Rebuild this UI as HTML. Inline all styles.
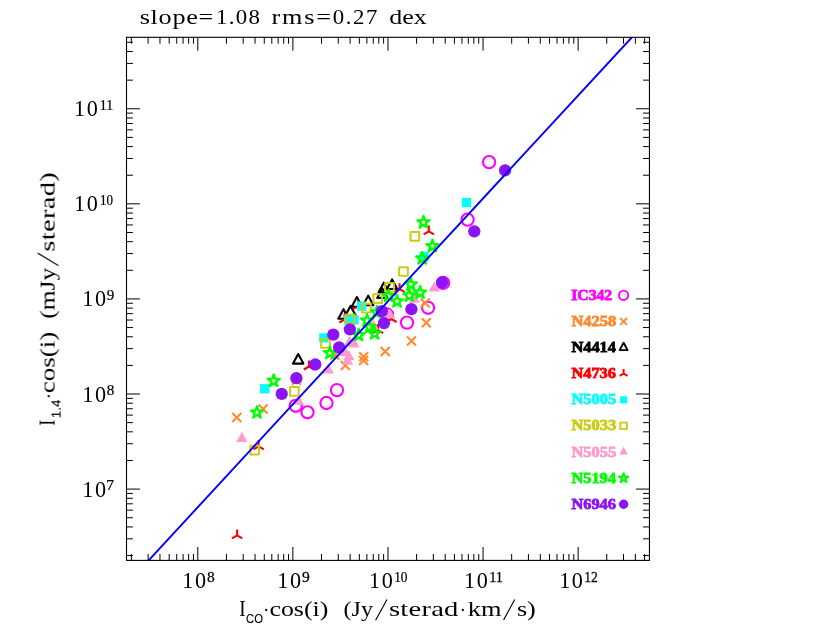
<!DOCTYPE html><html><head><meta charset="utf-8"><title>plot</title>
<style>html,body{margin:0;padding:0;background:#fff;}svg{display:block;}text{font-family:"Liberation Serif",serif;fill:#000;}</style></head><body>
<svg width="817" height="627" viewBox="0 0 817 627">
<rect width="817" height="627" fill="#fff"/>
<defs><filter id="noLCD" x="0" y="0" width="817" height="627" filterUnits="userSpaceOnUse"><feOffset dx="0" dy="0"/></filter></defs>
<g id="ic">
<circle cx="489.1" cy="162.1" r="6.10" fill="none" stroke="#ff00ff" stroke-width="2.10"/>
<circle cx="467.6" cy="219.6" r="6.10" fill="none" stroke="#ff00ff" stroke-width="2.10"/>
<circle cx="443.1" cy="282.9" r="6.10" fill="none" stroke="#ff00ff" stroke-width="2.10"/>
<circle cx="428.1" cy="307.8" r="6.10" fill="none" stroke="#ff00ff" stroke-width="2.10"/>
<circle cx="407" cy="322.6" r="6.10" fill="none" stroke="#ff00ff" stroke-width="2.10"/>
<circle cx="387" cy="314.5" r="6.10" fill="none" stroke="#ff00ff" stroke-width="2.10"/>
<circle cx="337" cy="390.1" r="6.10" fill="none" stroke="#ff00ff" stroke-width="2.10"/>
<circle cx="326.5" cy="403" r="6.10" fill="none" stroke="#ff00ff" stroke-width="2.10"/>
<circle cx="295.7" cy="405.8" r="6.10" fill="none" stroke="#ff00ff" stroke-width="2.10"/>
<circle cx="307.5" cy="412.3" r="6.10" fill="none" stroke="#ff00ff" stroke-width="2.10"/>
</g>
<g id="n42">
<path d="M420.70 298.40L429.70 307.40M420.70 307.40L429.70 298.40" stroke="#ff8a30" stroke-width="2.10" fill="none"/>
<path d="M421.80 318.30L430.80 327.30M421.80 327.30L430.80 318.30" stroke="#ff8a30" stroke-width="2.10" fill="none"/>
<path d="M407.00 336.60L416.00 345.60M407.00 345.60L416.00 336.60" stroke="#ff8a30" stroke-width="2.10" fill="none"/>
<path d="M380.70 347.10L389.70 356.10M380.70 356.10L389.70 347.10" stroke="#ff8a30" stroke-width="2.10" fill="none"/>
<path d="M359.20 352.30L368.20 361.30M359.20 361.30L368.20 352.30" stroke="#ff8a30" stroke-width="2.10" fill="none"/>
<path d="M359.10 356.10L368.10 365.10M359.10 365.10L368.10 356.10" stroke="#ff8a30" stroke-width="2.10" fill="none"/>
<path d="M340.80 361.10L349.80 370.10M340.80 370.10L349.80 361.10" stroke="#ff8a30" stroke-width="2.10" fill="none"/>
<path d="M330.40 350.40L339.40 359.40M330.40 359.40L339.40 350.40" stroke="#ff8a30" stroke-width="2.10" fill="none"/>
<path d="M291.90 375.80L300.90 384.80M291.90 384.80L300.90 375.80" stroke="#ff8a30" stroke-width="2.10" fill="none"/>
<path d="M258.60 404.50L267.60 413.50M258.60 413.50L267.60 404.50" stroke="#ff8a30" stroke-width="2.10" fill="none"/>
<path d="M232.30 412.90L241.30 421.90M232.30 421.90L241.30 412.90" stroke="#ff8a30" stroke-width="2.10" fill="none"/>
</g>
<g id="n44">
<path d="M298.20 354.00L303.40 363.60L293.00 363.60Z" stroke="#000" stroke-width="2.10" fill="none" stroke-linejoin="round"/>
<path d="M343.50 309.20L348.70 318.80L338.30 318.80Z" stroke="#000" stroke-width="2.10" fill="none" stroke-linejoin="round"/>
<path d="M350.50 305.90L355.70 315.50L345.30 315.50Z" stroke="#000" stroke-width="2.10" fill="none" stroke-linejoin="round"/>
<path d="M356.90 297.10L362.10 306.70L351.70 306.70Z" stroke="#000" stroke-width="2.10" fill="none" stroke-linejoin="round"/>
<path d="M368.20 295.70L373.40 305.30L363.00 305.30Z" stroke="#000" stroke-width="2.10" fill="none" stroke-linejoin="round"/>
<path d="M382.40 288.30L387.60 297.90L377.20 297.90Z" stroke="#000" stroke-width="2.10" fill="none" stroke-linejoin="round"/>
<path d="M383.80 282.70L389.00 292.30L378.60 292.30Z" stroke="#000" stroke-width="2.10" fill="none" stroke-linejoin="round"/>
<path d="M392.10 279.45L397.30 289.05L386.90 289.05Z" stroke="#000" stroke-width="2.10" fill="none" stroke-linejoin="round"/>
</g>
<g id="n47">
<path d="M237.10 535.40V529.40M237.10 535.40L231.90 538.40M237.10 535.40L242.30 538.40" stroke="#ff0000" stroke-width="2.10" fill="none"/>
<path d="M258.60 446.30V440.30M258.60 446.30L253.40 449.30M258.60 446.30L263.80 449.30" stroke="#ff0000" stroke-width="2.10" fill="none"/>
<path d="M309.00 366.50V360.50M309.00 366.50L303.80 369.50M309.00 366.50L314.20 369.50" stroke="#ff0000" stroke-width="2.10" fill="none"/>
<path d="M344.60 319.50V313.50M344.60 319.50L339.40 322.50M344.60 319.50L349.80 322.50" stroke="#ff0000" stroke-width="2.10" fill="none"/>
<path d="M358.30 306.20V300.20M358.30 306.20L353.10 309.20M358.30 306.20L363.50 309.20" stroke="#ff0000" stroke-width="2.10" fill="none"/>
<path d="M378.00 330.10V324.10M378.00 330.10L372.80 333.10M378.00 330.10L383.20 333.10" stroke="#ff0000" stroke-width="2.10" fill="none"/>
<path d="M391.40 319.00V313.00M391.40 319.00L386.20 322.00M391.40 319.00L396.60 322.00" stroke="#ff0000" stroke-width="2.10" fill="none"/>
<path d="M399.60 289.20V283.20M399.60 289.20L394.40 292.20M399.60 289.20L404.80 292.20" stroke="#ff0000" stroke-width="2.10" fill="none"/>
<path d="M428.80 231.40V225.40M428.80 231.40L423.60 234.40M428.80 231.40L434.00 234.40" stroke="#ff0000" stroke-width="2.10" fill="none"/>
</g>
<g id="n50">
<rect x="461.85" y="197.85" width="9.30" height="9.30" fill="#00ffff"/>
<rect x="419.40" y="251.85" width="9.30" height="9.30" fill="#00ffff"/>
<rect x="357.05" y="301.45" width="9.30" height="9.30" fill="#00ffff"/>
<rect x="343.85" y="315.25" width="9.30" height="9.30" fill="#00ffff"/>
<rect x="349.45" y="315.25" width="9.30" height="9.30" fill="#00ffff"/>
<rect x="319.15" y="333.25" width="9.30" height="9.30" fill="#00ffff"/>
<rect x="260.05" y="384.15" width="9.30" height="9.30" fill="#00ffff"/>
</g>
<g id="n503">
<rect x="410.55" y="232.05" width="8.70" height="8.70" fill="none" stroke="#cccc12" stroke-width="1.99" stroke-linejoin="round"/>
<rect x="399.15" y="267.15" width="8.70" height="8.70" fill="none" stroke="#cccc12" stroke-width="1.99" stroke-linejoin="round"/>
<rect x="385.15" y="283.05" width="8.70" height="8.70" fill="none" stroke="#cccc12" stroke-width="1.99" stroke-linejoin="round"/>
<rect x="373.35" y="294.25" width="8.70" height="8.70" fill="none" stroke="#cccc12" stroke-width="1.99" stroke-linejoin="round"/>
<rect x="362.05" y="303.75" width="8.70" height="8.70" fill="none" stroke="#cccc12" stroke-width="1.99" stroke-linejoin="round"/>
<rect x="345.85" y="314.65" width="8.70" height="8.70" fill="none" stroke="#cccc12" stroke-width="1.99" stroke-linejoin="round"/>
<rect x="321.15" y="339.15" width="8.70" height="8.70" fill="none" stroke="#cccc12" stroke-width="1.99" stroke-linejoin="round"/>
<rect x="290.05" y="386.95" width="8.70" height="8.70" fill="none" stroke="#cccc12" stroke-width="1.99" stroke-linejoin="round"/>
<rect x="250.35" y="445.75" width="8.70" height="8.70" fill="none" stroke="#cccc12" stroke-width="1.99" stroke-linejoin="round"/>
</g>
<g id="n505">
<path d="M434.30 281.40L439.90 291.50L428.70 291.50Z" fill="#ff9bcd"/>
<path d="M414.40 292.60L420.00 302.70L408.80 302.70Z" fill="#ff9bcd"/>
<path d="M354.00 337.30L359.60 347.40L348.40 347.40Z" fill="#ff9bcd"/>
<path d="M349.50 335.80L355.10 345.90L343.90 345.90Z" fill="#ff9bcd"/>
<path d="M348.90 350.10L354.50 360.20L343.30 360.20Z" fill="#ff9bcd"/>
<path d="M347.50 354.60L353.10 364.70L341.90 364.70Z" fill="#ff9bcd"/>
<path d="M344.80 345.90L350.40 356.00L339.20 356.00Z" fill="#ff9bcd"/>
<path d="M373.40 319.70L379.00 329.80L367.80 329.80Z" fill="#ff9bcd"/>
<path d="M328.30 363.40L333.90 373.50L322.70 373.50Z" fill="#ff9bcd"/>
<path d="M298.50 394.60L304.10 404.70L292.90 404.70Z" fill="#ff9bcd"/>
<path d="M241.90 431.80L247.50 441.90L236.30 441.90Z" fill="#ff9bcd"/>
<path d="M389.90 308.50L395.50 318.60L384.30 318.60Z" fill="#ff9bcd"/>
</g>
<g id="n51">
<path d="M423.50 215.90L424.94 220.32L429.59 220.32L425.83 223.06L427.26 227.48L423.50 224.74L419.74 227.48L421.17 223.06L417.41 220.32L422.06 220.32Z" fill="none" stroke="#00ff00" stroke-width="2.27" stroke-linejoin="round"/>
<path d="M432.40 239.70L433.84 244.12L438.49 244.12L434.73 246.86L436.16 251.28L432.40 248.54L428.64 251.28L430.07 246.86L426.31 244.12L430.96 244.12Z" fill="none" stroke="#00ff00" stroke-width="2.27" stroke-linejoin="round"/>
<path d="M422.20 252.00L423.64 256.42L428.29 256.42L424.53 259.16L425.96 263.58L422.20 260.84L418.44 263.58L419.87 259.16L416.11 256.42L420.76 256.42Z" fill="none" stroke="#00ff00" stroke-width="2.27" stroke-linejoin="round"/>
<path d="M410.80 277.90L412.24 282.32L416.89 282.32L413.13 285.06L414.56 289.48L410.80 286.74L407.04 289.48L408.47 285.06L404.71 282.32L409.36 282.32Z" fill="none" stroke="#00ff00" stroke-width="2.27" stroke-linejoin="round"/>
<path d="M420.10 286.20L421.54 290.62L426.19 290.62L422.43 293.36L423.86 297.78L420.10 295.04L416.34 297.78L417.77 293.36L414.01 290.62L418.66 290.62Z" fill="none" stroke="#00ff00" stroke-width="2.27" stroke-linejoin="round"/>
<path d="M409.40 289.20L410.84 293.62L415.49 293.62L411.73 296.36L413.16 300.78L409.40 298.04L405.64 300.78L407.07 296.36L403.31 293.62L407.96 293.62Z" fill="none" stroke="#00ff00" stroke-width="2.27" stroke-linejoin="round"/>
<path d="M397.00 295.00L398.44 299.42L403.09 299.42L399.33 302.16L400.76 306.58L397.00 303.84L393.24 306.58L394.67 302.16L390.91 299.42L395.56 299.42Z" fill="none" stroke="#00ff00" stroke-width="2.27" stroke-linejoin="round"/>
<path d="M388.60 289.60L390.04 294.02L394.69 294.02L390.93 296.76L392.36 301.18L388.60 298.44L384.84 301.18L386.27 296.76L382.51 294.02L387.16 294.02Z" fill="none" stroke="#00ff00" stroke-width="2.27" stroke-linejoin="round"/>
<path d="M377.00 305.90L378.44 310.32L383.09 310.32L379.33 313.06L380.76 317.48L377.00 314.74L373.24 317.48L374.67 313.06L370.91 310.32L375.56 310.32Z" fill="none" stroke="#00ff00" stroke-width="2.27" stroke-linejoin="round"/>
<path d="M367.10 314.10L368.54 318.52L373.19 318.52L369.43 321.26L370.86 325.68L367.10 322.94L363.34 325.68L364.77 321.26L361.01 318.52L365.66 318.52Z" fill="none" stroke="#00ff00" stroke-width="2.27" stroke-linejoin="round"/>
<path d="M369.60 320.50L371.04 324.92L375.69 324.92L371.93 327.66L373.36 332.08L369.60 329.34L365.84 332.08L367.27 327.66L363.51 324.92L368.16 324.92Z" fill="none" stroke="#00ff00" stroke-width="2.27" stroke-linejoin="round"/>
<path d="M374.60 327.10L376.04 331.52L380.69 331.52L376.93 334.26L378.36 338.68L374.60 335.94L370.84 338.68L372.27 334.26L368.51 331.52L373.16 331.52Z" fill="none" stroke="#00ff00" stroke-width="2.27" stroke-linejoin="round"/>
<path d="M358.60 328.70L360.04 333.12L364.69 333.12L360.93 335.86L362.36 340.28L358.60 337.54L354.84 340.28L356.27 335.86L352.51 333.12L357.16 333.12Z" fill="none" stroke="#00ff00" stroke-width="2.27" stroke-linejoin="round"/>
<path d="M329.90 346.60L331.34 351.02L335.99 351.02L332.23 353.76L333.66 358.18L329.90 355.44L326.14 358.18L327.57 353.76L323.81 351.02L328.46 351.02Z" fill="none" stroke="#00ff00" stroke-width="2.27" stroke-linejoin="round"/>
<path d="M273.70 374.40L275.14 378.82L279.79 378.82L276.03 381.56L277.46 385.98L273.70 383.24L269.94 385.98L271.37 381.56L267.61 378.82L272.26 378.82Z" fill="none" stroke="#00ff00" stroke-width="2.27" stroke-linejoin="round"/>
<path d="M257.00 406.10L258.44 410.52L263.09 410.52L259.33 413.26L260.76 417.68L257.00 414.94L253.24 417.68L254.67 413.26L250.91 410.52L255.56 410.52Z" fill="none" stroke="#00ff00" stroke-width="2.27" stroke-linejoin="round"/>
</g>
<g id="n69">
<circle cx="505.1" cy="170.3" r="6.15" fill="#8a14f5"/>
<circle cx="474.3" cy="231.3" r="6.15" fill="#8a14f5"/>
<circle cx="442.1" cy="282.5" r="6.15" fill="#8a14f5"/>
<circle cx="411.4" cy="309.2" r="6.15" fill="#8a14f5"/>
<circle cx="381.9" cy="311.2" r="6.15" fill="#8a14f5"/>
<circle cx="384.0" cy="323.1" r="6.15" fill="#8a14f5"/>
<circle cx="349.9" cy="329.3" r="6.15" fill="#8a14f5"/>
<circle cx="333.3" cy="334.7" r="6.15" fill="#8a14f5"/>
<circle cx="339.1" cy="347.3" r="6.15" fill="#8a14f5"/>
<circle cx="315.3" cy="364.5" r="6.15" fill="#8a14f5"/>
<circle cx="296.4" cy="378.2" r="6.15" fill="#8a14f5"/>
<circle cx="281.7" cy="393.9" r="6.15" fill="#8a14f5"/>
</g>
<clipPath id="cp"><rect x="126.5" y="37.3" width="522.95" height="523.1"/></clipPath>
<path d="M148.65 560.4 L632.15 37.0" stroke="#0000ff" stroke-width="1.9" fill="none" clip-path="url(#cp)"/>
<path d="M131.35 560.4 v-6.4 M131.35 37.3 v6.4 M148.10 560.4 v-6.4 M148.10 37.3 v6.4 M159.97 560.4 v-6.4 M159.97 37.3 v6.4 M169.19 560.4 v-6.4 M169.19 37.3 v6.4 M176.72 560.4 v-6.4 M176.72 37.3 v6.4 M183.08 560.4 v-6.4 M183.08 37.3 v6.4 M188.60 560.4 v-6.4 M188.60 37.3 v6.4 M193.46 560.4 v-6.4 M193.46 37.3 v6.4 M197.81 560.4 v-13.4 M197.81 37.3 v13.4 M226.43 560.4 v-6.4 M226.43 37.3 v6.4 M243.18 560.4 v-6.4 M243.18 37.3 v6.4 M255.06 560.4 v-6.4 M255.06 37.3 v6.4 M264.27 560.4 v-6.4 M264.27 37.3 v6.4 M271.80 560.4 v-6.4 M271.80 37.3 v6.4 M278.16 560.4 v-6.4 M278.16 37.3 v6.4 M283.68 560.4 v-6.4 M283.68 37.3 v6.4 M288.54 560.4 v-6.4 M288.54 37.3 v6.4 M292.89 560.4 v-13.4 M292.89 37.3 v13.4 M321.52 560.4 v-6.4 M321.52 37.3 v6.4 M338.26 560.4 v-6.4 M338.26 37.3 v6.4 M350.14 560.4 v-6.4 M350.14 37.3 v6.4 M359.35 560.4 v-6.4 M359.35 37.3 v6.4 M366.88 560.4 v-6.4 M366.88 37.3 v6.4 M373.25 560.4 v-6.4 M373.25 37.3 v6.4 M378.76 560.4 v-6.4 M378.76 37.3 v6.4 M383.62 560.4 v-6.4 M383.62 37.3 v6.4 M387.98 560.4 v-13.4 M387.98 37.3 v13.4 M416.60 560.4 v-6.4 M416.60 37.3 v6.4 M433.34 560.4 v-6.4 M433.34 37.3 v6.4 M445.22 560.4 v-6.4 M445.22 37.3 v6.4 M454.43 560.4 v-6.4 M454.43 37.3 v6.4 M461.96 560.4 v-6.4 M461.96 37.3 v6.4 M468.33 560.4 v-6.4 M468.33 37.3 v6.4 M473.84 560.4 v-6.4 M473.84 37.3 v6.4 M478.71 560.4 v-6.4 M478.71 37.3 v6.4 M483.06 560.4 v-13.4 M483.06 37.3 v13.4 M511.68 560.4 v-6.4 M511.68 37.3 v6.4 M528.42 560.4 v-6.4 M528.42 37.3 v6.4 M540.30 560.4 v-6.4 M540.30 37.3 v6.4 M549.52 560.4 v-6.4 M549.52 37.3 v6.4 M557.04 560.4 v-6.4 M557.04 37.3 v6.4 M563.41 560.4 v-6.4 M563.41 37.3 v6.4 M568.92 560.4 v-6.4 M568.92 37.3 v6.4 M573.79 560.4 v-6.4 M573.79 37.3 v6.4 M578.14 560.4 v-13.4 M578.14 37.3 v13.4 M606.76 560.4 v-6.4 M606.76 37.3 v6.4 M623.50 560.4 v-6.4 M623.50 37.3 v6.4 M635.38 560.4 v-6.4 M635.38 37.3 v6.4 M644.60 560.4 v-6.4 M644.60 37.3 v6.4 M126.5 555.55 h6.4 M649.45 555.55 h-6.4 M126.5 538.80 h6.4 M649.45 538.80 h-6.4 M126.5 526.93 h6.4 M649.45 526.93 h-6.4 M126.5 517.71 h6.4 M649.45 517.71 h-6.4 M126.5 510.18 h6.4 M649.45 510.18 h-6.4 M126.5 503.82 h6.4 M649.45 503.82 h-6.4 M126.5 498.30 h6.4 M649.45 498.30 h-6.4 M126.5 493.44 h6.4 M649.45 493.44 h-6.4 M126.5 489.09 h13.4 M649.45 489.09 h-13.4 M126.5 460.47 h6.4 M649.45 460.47 h-6.4 M126.5 443.72 h6.4 M649.45 443.72 h-6.4 M126.5 431.84 h6.4 M649.45 431.84 h-6.4 M126.5 422.63 h6.4 M649.45 422.63 h-6.4 M126.5 415.10 h6.4 M649.45 415.10 h-6.4 M126.5 408.74 h6.4 M649.45 408.74 h-6.4 M126.5 403.22 h6.4 M649.45 403.22 h-6.4 M126.5 398.36 h6.4 M649.45 398.36 h-6.4 M126.5 394.01 h13.4 M649.45 394.01 h-13.4 M126.5 365.38 h6.4 M649.45 365.38 h-6.4 M126.5 348.64 h6.4 M649.45 348.64 h-6.4 M126.5 336.76 h6.4 M649.45 336.76 h-6.4 M126.5 327.55 h6.4 M649.45 327.55 h-6.4 M126.5 320.02 h6.4 M649.45 320.02 h-6.4 M126.5 313.65 h6.4 M649.45 313.65 h-6.4 M126.5 308.14 h6.4 M649.45 308.14 h-6.4 M126.5 303.28 h6.4 M649.45 303.28 h-6.4 M126.5 298.92 h13.4 M649.45 298.92 h-13.4 M126.5 270.30 h6.4 M649.45 270.30 h-6.4 M126.5 253.56 h6.4 M649.45 253.56 h-6.4 M126.5 241.68 h6.4 M649.45 241.68 h-6.4 M126.5 232.47 h6.4 M649.45 232.47 h-6.4 M126.5 224.94 h6.4 M649.45 224.94 h-6.4 M126.5 218.57 h6.4 M649.45 218.57 h-6.4 M126.5 213.06 h6.4 M649.45 213.06 h-6.4 M126.5 208.19 h6.4 M649.45 208.19 h-6.4 M126.5 203.84 h13.4 M649.45 203.84 h-13.4 M126.5 175.22 h6.4 M649.45 175.22 h-6.4 M126.5 158.48 h6.4 M649.45 158.48 h-6.4 M126.5 146.60 h6.4 M649.45 146.60 h-6.4 M126.5 137.38 h6.4 M649.45 137.38 h-6.4 M126.5 129.86 h6.4 M649.45 129.86 h-6.4 M126.5 123.49 h6.4 M649.45 123.49 h-6.4 M126.5 117.98 h6.4 M649.45 117.98 h-6.4 M126.5 113.11 h6.4 M649.45 113.11 h-6.4 M126.5 108.76 h13.4 M649.45 108.76 h-13.4 M126.5 80.14 h6.4 M649.45 80.14 h-6.4 M126.5 63.40 h6.4 M649.45 63.40 h-6.4 M126.5 51.52 h6.4 M649.45 51.52 h-6.4 M126.5 42.30 h6.4 M649.45 42.30 h-6.4" stroke="#000" stroke-width="1" fill="none"/>
<rect x="126.5" y="37.3" width="522.95" height="523.1" fill="none" stroke="#000" stroke-width="1.1"/>
<g filter="url(#noLCD)">
<text transform="translate(571.21,299.80) scale(1.0462,1.0)" font-size="15" font-weight="bold" style="fill:#ff00ff;stroke:#ff00ff;stroke-width:0.8px">IC342</text>
<circle cx="623.6" cy="295.3" r="4.64" fill="none" stroke="#ff00ff" stroke-width="1.93"/>
<text transform="translate(571.44,325.92) scale(1.0989,1.0)" font-size="15" font-weight="bold" style="fill:#ff8a30;stroke:#ff8a30;stroke-width:0.8px">N4258</text>
<path d="M620.18 318.00L627.02 324.84M620.18 324.84L627.02 318.00" stroke="#ff8a30" stroke-width="1.93" fill="none"/>
<text transform="translate(571.44,352.04) scale(1.0926,1.0)" font-size="15" font-weight="bold" style="fill:#000;stroke:#000;stroke-width:0.8px">N4414</text>
<path d="M623.60 342.83L627.55 350.12L619.65 350.12Z" stroke="#000" stroke-width="1.93" fill="none" stroke-linejoin="round"/>
<text transform="translate(571.44,378.16) scale(1.0926,1.0)" font-size="15" font-weight="bold" style="fill:#ff0000;stroke:#ff0000;stroke-width:0.8px">N4736</text>
<path d="M623.60 373.66V369.10M623.60 373.66L619.65 375.94M623.60 373.66L627.55 375.94" stroke="#ff0000" stroke-width="1.93" fill="none"/>
<text transform="translate(571.44,404.28) scale(1.0989,1.0)" font-size="15" font-weight="bold" style="fill:#00ffff;stroke:#00ffff;stroke-width:0.8px">N5005</text>
<rect x="620.07" y="396.25" width="7.07" height="7.07" fill="#00ffff"/>
<text transform="translate(571.44,430.40) scale(1.0989,1.0)" font-size="15" font-weight="bold" style="fill:#cccc12;stroke:#cccc12;stroke-width:0.8px">N5033</text>
<rect x="620.29" y="422.59" width="6.61" height="6.61" fill="none" stroke="#cccc12" stroke-width="1.84" stroke-linejoin="round"/>
<text transform="translate(571.44,456.52) scale(1.0989,1.0)" font-size="15" font-weight="bold" style="fill:#ff9bcd;stroke:#ff9bcd;stroke-width:0.8px">N5055</text>
<path d="M623.60 446.78L627.86 454.45L619.34 454.45Z" fill="#ff9bcd"/>
<text transform="translate(571.44,482.64) scale(1.0926,1.0)" font-size="15" font-weight="bold" style="fill:#00ff00;stroke:#00ff00;stroke-width:0.8px">N5194</text>
<path d="M623.60 473.28L624.69 476.64L628.23 476.64L625.37 478.71L626.46 482.08L623.60 480.00L620.74 482.08L621.83 478.71L618.97 476.64L622.51 476.64Z" fill="none" stroke="#00ff00" stroke-width="2.09" stroke-linejoin="round"/>
<text transform="translate(571.44,508.76) scale(1.0926,1.0)" font-size="15" font-weight="bold" style="fill:#8a14f5;stroke:#8a14f5;stroke-width:0.8px">N6946</text>
<circle cx="623.6" cy="504.26" r="4.67" fill="#8a14f5"/>
<text transform="translate(139.68,24.00) scale(1.2200,1.0)" font-size="21.5" style="letter-spacing:0.578px;">slope=</text>
<text transform="translate(215.91,24.00) scale(1.0500,1.0)" font-size="21.8" style="letter-spacing:1.253px;">1.08</text>
<text transform="translate(271.49,24.00) scale(1.2200,1.0)" font-size="21.5" style="letter-spacing:1.514px;">rms=</text>
<text transform="translate(332.68,24.00) scale(1.0500,1.0)" font-size="21.8" style="letter-spacing:1.497px;">0.27</text>
<text transform="translate(389.19,24.00) scale(1.2084,1.0)" font-size="21.5">dex</text>
<text transform="translate(182.18,587.70) scale(1.0000,1.0)" font-size="22.2" style="letter-spacing:1.628px;">10</text>
<text transform="translate(206.93,581.50) scale(1.0362,1.0)" font-size="15.0" style="stroke:#000;stroke-width:0.25px">8</text>
<text transform="translate(277.26,587.70) scale(1.0000,1.0)" font-size="22.2" style="letter-spacing:1.628px;">10</text>
<text transform="translate(302.01,581.50) scale(1.0362,1.0)" font-size="15.0" style="stroke:#000;stroke-width:0.25px">9</text>
<text transform="translate(368.99,587.70) scale(1.0000,1.0)" font-size="22.2" style="letter-spacing:1.628px;">10</text>
<text transform="translate(394.18,581.50) scale(0.8908,1.0)" font-size="15.0" style="stroke:#000;stroke-width:0.25px">10</text>
<text transform="translate(464.07,587.70) scale(1.0000,1.0)" font-size="22.2" style="letter-spacing:1.628px;">10</text>
<text transform="translate(489.20,581.50) scale(0.9468,1.0)" font-size="15.0" style="stroke:#000;stroke-width:0.25px">11</text>
<text transform="translate(559.15,587.70) scale(1.0000,1.0)" font-size="22.2" style="letter-spacing:1.628px;">10</text>
<text transform="translate(584.33,581.50) scale(0.9067,1.0)" font-size="15.0" style="stroke:#000;stroke-width:0.25px">12</text>
<text transform="translate(82.27,496.59) scale(1.0000,1.0)" font-size="22.2" style="letter-spacing:1.528px;">10</text>
<text transform="translate(106.22,490.39) scale(1.0430,1.0)" font-size="15.0" style="stroke:#000;stroke-width:0.25px">7</text>
<text transform="translate(82.27,401.51) scale(1.0000,1.0)" font-size="22.2" style="letter-spacing:1.528px;">10</text>
<text transform="translate(106.73,395.31) scale(1.0057,1.0)" font-size="15.0" style="stroke:#000;stroke-width:0.25px">8</text>
<text transform="translate(82.27,306.42) scale(1.0000,1.0)" font-size="22.2" style="letter-spacing:1.528px;">10</text>
<text transform="translate(106.73,300.22) scale(1.0057,1.0)" font-size="15.0" style="stroke:#000;stroke-width:0.25px">9</text>
<text transform="translate(74.07,211.34) scale(1.0000,1.0)" font-size="22.2" style="letter-spacing:1.628px;">10</text>
<text transform="translate(99.88,205.14) scale(0.8683,1.0)" font-size="15.0" style="stroke:#000;stroke-width:0.25px">10</text>
<text transform="translate(74.07,116.26) scale(1.0000,1.0)" font-size="22.2" style="letter-spacing:1.628px;">10</text>
<text transform="translate(99.82,110.06) scale(0.9230,1.0)" font-size="15.0" style="stroke:#000;stroke-width:0.25px">11</text>
<text transform="translate(239.20,615.80) scale(0.8496,1.0)" font-size="22.6">I</text>
<text transform="translate(245.97,622.50) scale(0.8599,1.0)" font-size="13.2" style="font-family:'Liberation Sans',sans-serif;stroke:#000;stroke-width:0.12px">CO</text>
<circle cx="266.2" cy="610.0" r="1.15" fill="#000"/>
<text transform="translate(269.39,615.80) scale(1.1768,1.0)" font-size="22">cos(i)</text>
<text transform="translate(343.55,615.80) scale(1.0954,1.0)" font-size="22">(Jy</text>
<path d="M375.6 620.3L387.0 599.5" stroke="#000" stroke-width="1.15" fill="none"/>
<text transform="translate(389.01,615.80) scale(1.3000,1.0)" font-size="22" style="letter-spacing:0.170px;">sterad</text>
<circle cx="462.8" cy="610.0" r="1.15" fill="#000"/>
<text transform="translate(467.79,615.80) scale(1.2000,1.0)" font-size="22">km</text>
<path d="M503.6 620.0L514.7 599.5" stroke="#000" stroke-width="1.15" fill="none"/>
<text transform="translate(516.88,615.80) scale(1.1940,1.0)" font-size="22">s)</text>
<g transform="translate(54.6,0) rotate(-90)">
<text transform="translate(-425.87,0.00) scale(0.8024,1.0)" font-size="22.6">I</text>
<text transform="translate(-418.23,6.00) scale(1.0274,1.0)" font-size="13.0" style="font-family:'Liberation Sans',sans-serif;stroke:#000;stroke-width:0.12px">1.4</text>
<circle cx="-396.2" cy="-5.8" r="1.15" fill="#000"/>
<text transform="translate(-393.35,0.00) scale(1.2302,1.0)" font-size="22">cos(i)</text>
<text transform="translate(-318.80,0.00) scale(1.1590,1.0)" font-size="22">(mJy</text>
<path d="M-265.6 3.7L-253.1 -16.9" stroke="#000" stroke-width="1.15" fill="none"/>
<text transform="translate(-251.69,0.00) scale(1.3000,1.0)" font-size="22" style="letter-spacing:0.220px;">sterad)</text>
</g>
</g>
</svg></body></html>
